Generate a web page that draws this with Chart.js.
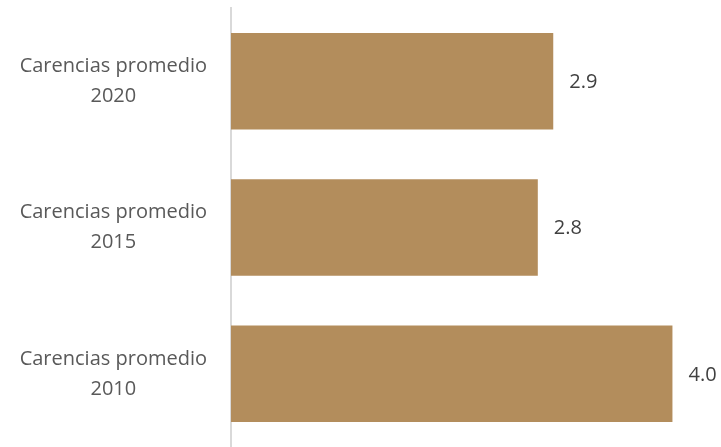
<!DOCTYPE html>
<html>
<head>
<meta charset="utf-8">
<script src="https://cdn.jsdelivr.net/npm/chart.js@4"></script>
<style>
  html, body { margin: 0; padding: 0; background: #fff; }
  #wrap { width: 721px; height: 447px; }
</style>
</head>
<body>
<div id="wrap"><canvas id="barChart" width="721" height="447"></canvas></div>
<script>
const categories = [['Carencias promedio', '2020'], ['Carencias promedio', '2015'], ['Carencias promedio', '2010']];
const values = [2.92, 2.78, 4.0];
const valueLabels = ['2.9', '2.8', '4.0'];

const barColor = '#B38D5C';

const valueLabelPlugin = {
    id: 'valueLabels',
    afterDatasetsDraw(chart) {
        const ctx = chart.ctx;
        const meta = chart.getDatasetMeta(0);
        ctx.save();
        ctx.font = '20px "Open Sans"';
        ctx.fillStyle = '#404040';
        ctx.textAlign = 'left';
        ctx.textBaseline = 'middle';
        meta.data.forEach(function (bar, i) {
            ctx.fillText(valueLabels[i], bar.x + 16, bar.y + 1);
        });
        ctx.restore();
    }
};

document.addEventListener('DOMContentLoaded', function () {
    const ctx = document.getElementById('barChart').getContext('2d');
    new Chart(ctx, {
        type: 'bar',
        data: {
            labels: categories,
            datasets: [{
                data: values,
                backgroundColor: barColor,
                borderWidth: 0,
                categoryPercentage: 1,
                barPercentage: 0.66
            }]
        },
        options: {
            indexAxis: 'y',
            responsive: false,
            animation: false,
            layout: { padding: { top: 8, right: 0, bottom: 0, left: 0 } },
            plugins: {
                legend: { display: false },
                tooltip: { enabled: false }
            },
            scales: {
                x: {
                    display: false,
                    min: 0,
                    max: 4.44
                },
                y: {
                    afterFit: function (scale) {
                        scale.width = 231;
                        scale.paddingTop = 0;
                        scale.paddingBottom = 0;
                    },
                    grid: { display: false, drawTicks: false },
                    border: { display: true, color: '#d9d9d9', width: 2 },
                    ticks: {
                        crossAlign: 'center',
                        padding: 24,
                        color: '#595959',
                        font: { family: '"Open Sans"', size: 20, lineHeight: 1.5 }
                    }
                }
            }
        },
        plugins: [valueLabelPlugin]
    });
});
</script>
</body>
</html>
